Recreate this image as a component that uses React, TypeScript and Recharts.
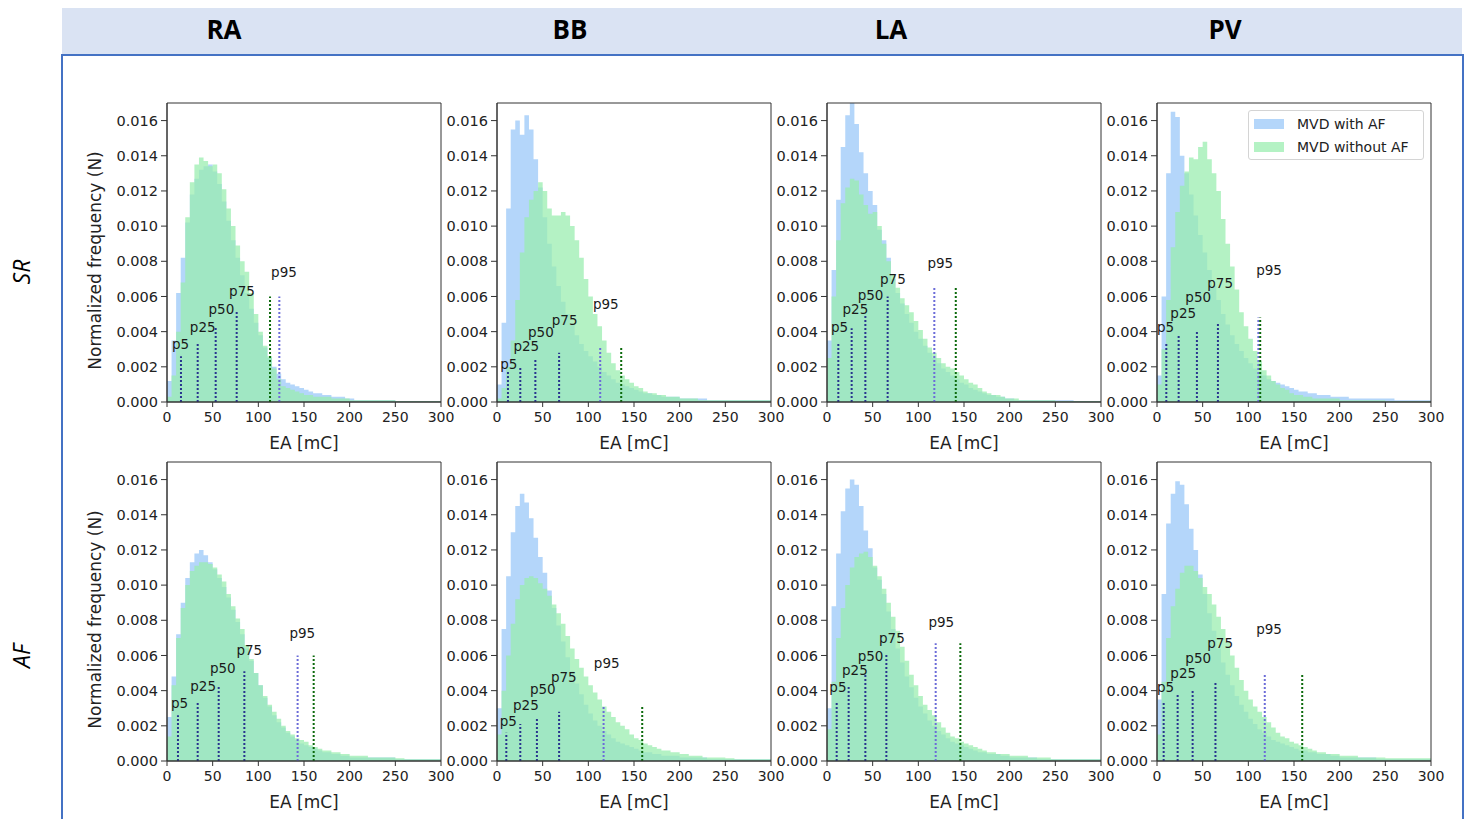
import React from 'react';
import {
  ComposedChart,
  Area,
  XAxis,
  YAxis,
  ReferenceLine,
  ReferenceArea,
  ReferenceDot,
} from 'recharts';

// bin starts [mC], 5 mC wide bins
const binStarts = [
  0, 5, 10, 15, 20, 25, 30, 35, 40, 45, 50, 55, 60, 65, 70, 75, 80, 85, 90, 95,
  100, 105, 110, 115, 120, 125, 130, 135, 140, 145, 150, 155, 160, 165, 170, 175, 180, 185, 190, 195,
  200, 205, 210, 215, 220, 225, 230, 235, 240, 245, 250, 255, 260, 265, 270, 275, 280, 285, 290, 295,
];

const xTicks = [0, 50, 100, 150, 200, 250, 300];
const yTicks = [0, 0.002, 0.004, 0.006, 0.008, 0.01, 0.012, 0.014, 0.016];
const columns = ['RA', 'BB', 'LA', 'PV'];
const rowNames = ['SR', 'AF'];
const pctNames = ['p5', 'p25', 'p50', 'p75', 'p95'];

// ---- SR row ----
const raSrWith = [
  0.0012, 0.0035, 0.0062, 0.0082, 0.0102, 0.0118, 0.0127, 0.0132, 0.0134, 0.0135,
  0.0131, 0.0124, 0.0114, 0.0103, 0.0092, 0.0082, 0.0072, 0.0062, 0.0053, 0.0045,
  0.0038, 0.0031, 0.0025, 0.002, 0.0016, 0.0013, 0.0011, 0.001, 0.0009, 0.0008,
  0.0007, 0.0006, 0.0005, 0.0005, 0.0004, 0.0004, 0.0003, 0.0003, 0.0003, 0.0002,
  0.0002, 0.0001, 0.0001, 0.0001, 0.0001, 0.0001, 0.0001, 0.0001, 0.0001, 0.0001,
  0.00005, 0.00005, 0.00005, 0.00005, 0.00005, 0.00005, 0.00005, 0.00005, 0.00005, 0.00005,
];
const raSrWithout = [
  0.0003, 0.0015, 0.004, 0.0068, 0.0105, 0.0125, 0.0135, 0.0139, 0.0137, 0.0134,
  0.0135, 0.013, 0.0121, 0.011, 0.01, 0.0089, 0.008, 0.0074, 0.0062, 0.005,
  0.004, 0.0032, 0.0026, 0.0019, 0.0013, 0.0009, 0.0008, 0.0007, 0.0006, 0.0005,
  0.0004, 0.0004, 0.0003, 0.0003, 0.0003, 0.0003, 0.0002, 0.0002, 0.0002, 0.0002,
  0.0001, 0.0001, 0.0001, 0.0001, 0.0001, 0.0001, 0.0001, 0.0001, 0.0001, 0.0001,
  0.00005, 0.00005, 0.00005, 0.00005, 0.00005, 0.00005, 0.00005, 0.00005, 0.00005, 0.00005,
];
const bbSrWith = [
  0.001, 0.0045, 0.011, 0.0155, 0.016, 0.0152, 0.0163, 0.0155, 0.0138, 0.0122,
  0.0105, 0.009, 0.0077, 0.0066, 0.0057, 0.005, 0.0044, 0.0038, 0.0033, 0.0029,
  0.0026, 0.0023, 0.002, 0.0017, 0.0015, 0.0013, 0.0011, 0.001, 0.0009, 0.0008,
  0.0007, 0.0006, 0.0005, 0.0005, 0.0004, 0.0004, 0.0003, 0.0003, 0.0003, 0.0003,
  0.0002, 0.0002, 0.0002, 0.0002, 0.0002, 0.0002, 0.0001, 0.0001, 0.0001, 0.0001,
  0.0001, 0.0001, 0.0001, 0.0001, 0.0001, 0.0001, 0.0001, 0.0001, 0.0001, 0.0001,
];
const bbSrWithout = [
  0.0002, 0.0008, 0.002, 0.0035, 0.0058, 0.0085, 0.0105, 0.0115, 0.012, 0.0125,
  0.012, 0.011, 0.0106, 0.0106, 0.0108, 0.0106, 0.01, 0.0092, 0.0082, 0.007,
  0.006, 0.005, 0.0043, 0.0035, 0.0028, 0.0022, 0.0018, 0.0015, 0.0013, 0.0011,
  0.0009, 0.0008, 0.0006, 0.0005, 0.0005, 0.0004, 0.0004, 0.0003, 0.0003, 0.0003,
  0.0002, 0.0002, 0.0002, 0.0002, 0.0001, 0.0001, 0.0001, 0.0001, 0.0001, 0.0001,
  0.0001, 0.0001, 0.0001, 0.0001, 0.0001, 0.0001, 0.0001, 0.0001, 0.0001, 0.0001,
];
const laSrWith = [
  0.0035, 0.0075, 0.0115, 0.0145, 0.0163, 0.017, 0.0158, 0.0142, 0.013, 0.012,
  0.0112, 0.0098, 0.0092, 0.0082, 0.007, 0.0062, 0.0056, 0.005, 0.0045, 0.004,
  0.0036, 0.0032, 0.0028, 0.0025, 0.0022, 0.0019, 0.0017, 0.0015, 0.0013, 0.0011,
  0.001, 0.0008, 0.0007, 0.0006, 0.0005, 0.0004, 0.0004, 0.0003, 0.0003, 0.0002,
  0.0002, 0.0001, 0.0001, 0.0001, 0.0001, 0.0001, 0.0001, 0.0001, 0.0001, 0.0001,
  0.0001, 0.0001, 0.0001, 0.0001, 0.00005, 0.00005, 0.00005, 0.00005, 0.00005, 0.00005,
];
const laSrWithout = [
  0.0025, 0.006, 0.0092, 0.0113, 0.0122, 0.0127, 0.0126, 0.0118, 0.0112, 0.0107,
  0.0108, 0.01, 0.009, 0.008, 0.0072, 0.0065, 0.0059, 0.0055, 0.0051, 0.0046,
  0.0041, 0.0036, 0.0031, 0.0028, 0.0025, 0.0022, 0.002, 0.0019, 0.0017, 0.0015,
  0.0013, 0.0011, 0.001, 0.0008, 0.0006, 0.0005, 0.0004, 0.0004, 0.0003, 0.0002,
  0.0002, 0.0002, 0.0001, 0.0001, 0.0001, 0.0001, 0.0001, 0.0001, 0.0001, 0.0001,
  0.00005, 0.00005, 0.00005, 0.00005, 0.00005, 0.00005, 0.00005, 0.00005, 0.00005, 0.00005,
];
const pvSrWith = [
  0.0015, 0.006, 0.013, 0.0165, 0.0162, 0.014, 0.013, 0.0118, 0.0106, 0.0095,
  0.0085, 0.0075, 0.0066, 0.0058, 0.005, 0.0044, 0.0038, 0.0033, 0.0029, 0.0025,
  0.0022, 0.0019, 0.0017, 0.0015, 0.0013, 0.0012, 0.0011, 0.001, 0.0009, 0.0008,
  0.0007, 0.0006, 0.0006, 0.0005, 0.0005, 0.0004, 0.0004, 0.0004, 0.0003, 0.0003,
  0.0003, 0.0003, 0.0002, 0.0002, 0.0002, 0.0002, 0.0002, 0.0002, 0.0002, 0.0002,
  0.0002, 0.0002, 0.0001, 0.0001, 0.0001, 0.0001, 0.0001, 0.0001, 0.0001, 0.0001,
];
const pvSrWithout = [
  0.001, 0.003, 0.0058, 0.0088, 0.0108, 0.0123, 0.0131, 0.0139, 0.0138, 0.0145,
  0.0148, 0.0138, 0.013, 0.012, 0.0104, 0.009, 0.0077, 0.0064, 0.0051, 0.0043,
  0.0036, 0.0029, 0.0023, 0.0018, 0.0015, 0.0012, 0.001, 0.0008, 0.0007, 0.0005,
  0.0004, 0.0004, 0.0003, 0.0003, 0.0002, 0.0002, 0.0002, 0.0002, 0.0002, 0.0002,
  0.0001, 0.0001, 0.0001, 0.0001, 0.0001, 0.0001, 0.0001, 0.0001, 0.0001, 0.0001,
  0.00005, 0.00005, 0.00005, 0.00005, 0.00005, 0.00005, 0.00005, 0.00005, 0.00005, 0.00005,
];

// ---- AF row ----
const raAfWith = [
  0.0025, 0.0048, 0.0072, 0.009, 0.0104, 0.0113, 0.0118, 0.012, 0.0117, 0.0113,
  0.0109, 0.0104, 0.0099, 0.0093, 0.0086, 0.0079, 0.0072, 0.0064, 0.0057, 0.005,
  0.0043, 0.0036, 0.0031, 0.0026, 0.0022, 0.0019, 0.0016, 0.0014, 0.0012, 0.001,
  0.0009, 0.0008, 0.0007, 0.0006, 0.0005, 0.0005, 0.0004, 0.0004, 0.0003, 0.0003,
  0.0002, 0.0002, 0.0002, 0.0002, 0.0002, 0.0002, 0.0002, 0.0002, 0.0002, 0.0002,
  0.0001, 0.0001, 0.0001, 0.0001, 0.0001, 0.0001, 0.0001, 0.0001, 0.0001, 0.0001,
];
const raAfWithout = [
  0.0014, 0.0043, 0.007, 0.0087, 0.01, 0.0108, 0.0111, 0.0113, 0.0113, 0.0112,
  0.011, 0.0106, 0.0102, 0.0095, 0.0088, 0.0081, 0.0075, 0.0066, 0.0058, 0.005,
  0.0043, 0.0037, 0.0032, 0.0028, 0.0024, 0.002, 0.0017, 0.0015, 0.0013, 0.0012,
  0.0011, 0.0009, 0.0008, 0.0007, 0.0006, 0.0006, 0.0005, 0.0005, 0.0004, 0.0004,
  0.0003, 0.0003, 0.0003, 0.0003, 0.0002, 0.0002, 0.0002, 0.0002, 0.0002, 0.0002,
  0.00015, 0.00015, 0.0001, 0.0001, 0.0001, 0.0001, 0.0001, 0.0001, 0.0001, 0.0001,
];
const bbAfWith = [
  0.003, 0.0075, 0.0105, 0.013, 0.0145, 0.0152, 0.0147, 0.0138, 0.0127, 0.0116,
  0.0107, 0.0097, 0.0087, 0.0077, 0.0068, 0.0059, 0.0051, 0.0044, 0.0038, 0.0032,
  0.0027, 0.0023, 0.002, 0.0017, 0.0015, 0.0013, 0.0011, 0.001, 0.0009, 0.0008,
  0.0007, 0.0006, 0.0005, 0.0005, 0.0004, 0.0004, 0.0003, 0.0003, 0.0003, 0.0003,
  0.0002, 0.0002, 0.0002, 0.0002, 0.0002, 0.0002, 0.0001, 0.0001, 0.0001, 0.0001,
  0.0001, 0.0001, 0.0001, 0.0001, 0.0001, 0.0001, 0.0001, 0.0001, 0.0001, 0.0001,
];
const bbAfWithout = [
  0.0015, 0.004, 0.006, 0.0078, 0.0092, 0.01, 0.0104, 0.0105, 0.0104, 0.0101,
  0.0098, 0.0094, 0.0089, 0.0084, 0.0078, 0.0071, 0.0064, 0.0058, 0.0053, 0.0048,
  0.0043, 0.0039, 0.0035, 0.0031, 0.0028, 0.0025, 0.0022, 0.002, 0.0018, 0.0015,
  0.0013, 0.0012, 0.001, 0.0009, 0.0008, 0.0007, 0.0006, 0.0006, 0.0005, 0.0005,
  0.0004, 0.0004, 0.0003, 0.0003, 0.0003, 0.0002, 0.0002, 0.0002, 0.0002, 0.0002,
  0.00015, 0.00015, 0.0001, 0.0001, 0.0001, 0.0001, 0.0001, 0.0001, 0.0001, 0.0001,
];
const laAfWith = [
  0.003, 0.0088, 0.0118, 0.0142, 0.0155, 0.016, 0.0157, 0.0145, 0.0131, 0.0121,
  0.011, 0.0103, 0.0095, 0.0085, 0.0075, 0.0064, 0.0056, 0.0048, 0.0042, 0.0036,
  0.0031, 0.0027, 0.0023, 0.002, 0.0017, 0.0015, 0.0013, 0.0011, 0.001, 0.0009,
  0.0008, 0.0007, 0.0006, 0.0005, 0.0005, 0.0004, 0.0004, 0.0004, 0.0003, 0.0003,
  0.0002, 0.0002, 0.0002, 0.0002, 0.0002, 0.0002, 0.0001, 0.0001, 0.0001, 0.0001,
  0.0001, 0.0001, 0.0001, 0.0001, 0.0001, 0.0001, 0.0001, 0.0001, 0.0001, 0.0001,
];
const laAfWithout = [
  0.0018, 0.0045, 0.007, 0.0087, 0.01, 0.011, 0.0116, 0.0118, 0.0119, 0.0116,
  0.0111, 0.0105, 0.0098, 0.009, 0.0082, 0.0074, 0.0065, 0.0057, 0.0049, 0.0043,
  0.0037, 0.0032, 0.0029, 0.0026, 0.0022, 0.0019, 0.0016, 0.0014, 0.0013, 0.0011,
  0.001, 0.0009, 0.0008, 0.0007, 0.0006, 0.0005, 0.0005, 0.0004, 0.0004, 0.0004,
  0.0003, 0.0003, 0.0003, 0.0003, 0.0002, 0.0002, 0.0002, 0.0002, 0.0002, 0.0001,
  0.0001, 0.0001, 0.0001, 0.0001, 0.0001, 0.0001, 0.0001, 0.0001, 0.0001, 0.0001,
];
const pvAfWith = [
  0.0035, 0.0095, 0.0135, 0.0152, 0.0159, 0.0157, 0.0146, 0.0132, 0.012, 0.0106,
  0.0095, 0.0084, 0.0074, 0.0064, 0.0056, 0.0049, 0.0043, 0.0037, 0.0032, 0.0028,
  0.0024, 0.0021, 0.0018, 0.0016, 0.0014, 0.0012, 0.0011, 0.001, 0.0009, 0.0008,
  0.0007, 0.0006, 0.0006, 0.0005, 0.0005, 0.0004, 0.0004, 0.0004, 0.0003, 0.0003,
  0.0002, 0.0002, 0.0002, 0.0002, 0.0002, 0.0002, 0.0002, 0.0002, 0.0001, 0.0001,
  0.0001, 0.0001, 0.0001, 0.0001, 0.0001, 0.0001, 0.0001, 0.0001, 0.0001, 0.0001,
];
const pvAfWithout = [
  0.0015, 0.0045, 0.007, 0.0088, 0.0098, 0.0107, 0.0111, 0.0111, 0.0108, 0.0104,
  0.0099, 0.0095, 0.0089, 0.0082, 0.0075, 0.0068, 0.006, 0.0053, 0.0046, 0.004,
  0.0035, 0.0031, 0.0028, 0.0025, 0.0022, 0.0019, 0.0016, 0.0014, 0.0013, 0.0011,
  0.001, 0.0009, 0.0008, 0.0007, 0.0006, 0.0005, 0.0005, 0.0004, 0.0004, 0.0004,
  0.0003, 0.0003, 0.0003, 0.0003, 0.0002, 0.0002, 0.0002, 0.0002, 0.0002, 0.0002,
  0.00015, 0.00015, 0.00015, 0.00015, 0.00015, 0.00015, 0.00015, 0.00015, 0.00015, 0.00015,
];

// percentiles of "with AF" (p5..p95), line heights, p95 of "without AF", label anchors
const raSrPct = [15.3, 33.6, 53.3, 76.3, 123];
const raSrPctTop = [0.0026, 0.0034, 0.0043, 0.0052, 0.006];
const raSrP95Without = 112.8;
const raSrLabelX = [5.5, 25, 45.5, 68, 114];
const raSrLabelY = [0.003, 0.004, 0.005, 0.006, 0.0071];

const bbSrPct = [12, 25.5, 42, 68, 113];
const bbSrPctTop = [0.0017, 0.002, 0.0024, 0.0028, 0.0031];
const bbSrP95Without = 136;
const bbSrLabelX = [3.6, 18, 34, 60, 105];
const bbSrLabelY = [0.0019, 0.0029, 0.0037, 0.0044, 0.0053];

const laSrPct = [12.4, 27, 42, 66.4, 117.5];
const laSrPctTop = [0.0034, 0.0042, 0.005, 0.006, 0.0066];
const laSrP95Without = 141;
const laSrLabelX = [4.4, 17, 33.6, 58, 110];
const laSrLabelY = [0.004, 0.005, 0.0058, 0.0067, 0.0076];

const pvSrPct = [10.2, 23.7, 43.7, 66.7, 111];
const pvSrPctTop = [0.0034, 0.0038, 0.0041, 0.0045, 0.0048];
const pvSrP95Without = 113;
const pvSrLabelX = [0, 14.6, 31, 55, 108.6];
const pvSrLabelY = [0.004, 0.0048, 0.0057, 0.0065, 0.0072];

const raAfPct = [12, 33.6, 56.6, 84.7, 143];
const raAfPctTop = [0.0026, 0.0034, 0.0043, 0.0051, 0.006];
const raAfP95Without = 160.6;
const raAfLabelX = [4.4, 25.5, 47, 76, 134];
const raAfLabelY = [0.003, 0.004, 0.005, 0.006, 0.007];

const bbAfPct = [10.2, 25.5, 43.7, 68, 116.7];
const bbAfPctTop = [0.0016, 0.0021, 0.0024, 0.0028, 0.0031];
const bbAfP95Without = 159;
const bbAfLabelX = [3, 17.5, 36, 59, 106];
const bbAfLabelY = [0.002, 0.0029, 0.0038, 0.0045, 0.0053];

const laAfPct = [10.6, 23.7, 42, 65, 119];
const laAfPctTop = [0.0034, 0.0043, 0.005, 0.0061, 0.0067];
const laAfP95Without = 146;
const laAfLabelX = [2.6, 16.4, 33.6, 57, 111];
const laAfLabelY = [0.0039, 0.0049, 0.0057, 0.0067, 0.0076];

const pvAfPct = [7.3, 22.6, 39, 64, 118];
const pvAfPctTop = [0.0034, 0.0038, 0.0041, 0.0045, 0.0049];
const pvAfP95Without = 159;
const pvAfLabelX = [0, 14.6, 31, 55, 108.6];
const pvAfLabelY = [0.0039, 0.0047, 0.0056, 0.0064, 0.0072];

const panels = [
  { row: 0, col: 0, withAF: raSrWith, withoutAF: raSrWithout, pct: raSrPct, top: raSrPctTop, p95: raSrP95Without, lx: raSrLabelX, ly: raSrLabelY },
  { row: 0, col: 1, withAF: bbSrWith, withoutAF: bbSrWithout, pct: bbSrPct, top: bbSrPctTop, p95: bbSrP95Without, lx: bbSrLabelX, ly: bbSrLabelY },
  { row: 0, col: 2, withAF: laSrWith, withoutAF: laSrWithout, pct: laSrPct, top: laSrPctTop, p95: laSrP95Without, lx: laSrLabelX, ly: laSrLabelY },
  { row: 0, col: 3, withAF: pvSrWith, withoutAF: pvSrWithout, pct: pvSrPct, top: pvSrPctTop, p95: pvSrP95Without, lx: pvSrLabelX, ly: pvSrLabelY },
  { row: 1, col: 0, withAF: raAfWith, withoutAF: raAfWithout, pct: raAfPct, top: raAfPctTop, p95: raAfP95Without, lx: raAfLabelX, ly: raAfLabelY },
  { row: 1, col: 1, withAF: bbAfWith, withoutAF: bbAfWithout, pct: bbAfPct, top: bbAfPctTop, p95: bbAfP95Without, lx: bbAfLabelX, ly: bbAfLabelY },
  { row: 1, col: 2, withAF: laAfWith, withoutAF: laAfWithout, pct: laAfPct, top: laAfPctTop, p95: laAfP95Without, lx: laAfLabelX, ly: laAfLabelY },
  { row: 1, col: 3, withAF: pvAfWith, withoutAF: pvAfWithout, pct: pvAfPct, top: pvAfPctTop, p95: pvAfP95Without, lx: pvAfLabelX, ly: pvAfLabelY },
];

const BLUE = '#b4d6fa';
const GREEN = '#98edae';
const PLOT_LEFT = [167, 497, 827, 1157];
const PLOT_TOP = [103, 462];
const PLOT_W = 274;
const PLOT_H = 299;
const Y_W = 62;
const M_TOP = 8;
const M_RIGHT = 18;
const X_H = 50;
const FONT = '"DejaVu Sans", sans-serif';
const TXT = '#222';

const Panel = ({ p }: { p: (typeof panels)[number] }) => {
  const rows = binStarts.map((x, i) => ({ x, withAF: p.withAF[i], withoutAF: p.withoutAF[i] }));
  rows.push({ x: 300, withAF: p.withAF[59], withoutAF: p.withoutAF[59] });

  return (
    <div style={{ position: 'absolute', left: PLOT_LEFT[p.col] - Y_W, top: PLOT_TOP[p.row] - M_TOP }}>
      <ComposedChart
        width={Y_W + PLOT_W + M_RIGHT}
        height={M_TOP + PLOT_H + X_H}
        data={rows}
        margin={{ top: M_TOP, right: M_RIGHT, bottom: 0, left: 0 }}
        style={{ fontFamily: FONT }}
      >
        <XAxis
          dataKey="x"
          type="number"
          domain={[0, 300]}
          ticks={xTicks}
          allowDataOverflow
          height={X_H}
          stroke="#333"
          tickSize={5}
          tickMargin={5}
          tick={{ fontSize: 14, fill: TXT }}
          label={{ value: 'EA [mC]', position: 'insideBottom', offset: 3, fontSize: 17, fill: TXT }}
        />
        <YAxis
          type="number"
          domain={[0, 0.017]}
          ticks={yTicks}
          allowDataOverflow
          width={Y_W}
          stroke="#333"
          tickSize={6}
          tickMargin={3}
          tick={{ fontSize: 14.5, fill: TXT }}
          tickFormatter={(v: number) => v.toFixed(3)}
        />
        <Area type="stepAfter" dataKey="withAF" fill={BLUE} fillOpacity={1} stroke="none" isAnimationActive={false} />
        <Area type="stepAfter" dataKey="withoutAF" fill={GREEN} fillOpacity={0.73} stroke="none" isAnimationActive={false} />
        <ReferenceArea x1={0} x2={300} y1={0} y2={0.017} fill="none" fillOpacity={0} stroke="#333" strokeWidth={1} />
        {p.pct.map((v, i) => (
          <ReferenceLine
            key={'b' + i}
            segment={[{ x: v, y: 0 }, { x: v, y: p.top[i] }]}
            stroke={i === 4 ? '#6c6cd8' : '#28348e'}
            strokeWidth={2}
            strokeDasharray="2 2"
          />
        ))}
        <ReferenceLine
          segment={[{ x: p.p95, y: 0 }, { x: p.p95, y: p.top[4] }]}
          stroke="#0c6a0c"
          strokeWidth={2}
          strokeDasharray="2 2"
        />
        {pctNames.map((name, i) => (
          <ReferenceDot
            key={name}
            x={p.lx[i]}
            y={p.ly[i]}
            r={1}
            shape={(s: any) => (
              <text x={s.cx} y={s.cy} fontSize={13.5} fill="#1a1a1a" fontFamily={FONT}>
                {name}
              </text>
            )}
          />
        ))}
      </ComposedChart>
    </div>
  );
};

export default function App() {
  return (
    <div style={{ position: 'absolute', left: 0, top: 0, width: 1468, height: 819, overflow: 'hidden', background: '#fff' }}>
      {/* header band */}
      <div style={{ position: 'absolute', left: 62, top: 8, width: 1400, height: 46, background: '#dae3f3' }} />
      {columns.map((c, i) => (
        <div
          key={c}
          style={{
            position: 'absolute',
            left: [224, 570, 891, 1225][i] - 50,
            top: 11,
            width: 100,
            textAlign: 'center',
            fontFamily: '"Open Sans", sans-serif',
            fontWeight: 700,
            fontSize: 26,
            lineHeight: '36px',
            color: '#000',
          }}
        >
          {c}
        </div>
      ))}
      {/* blue frame */}
      <div
        style={{
          position: 'absolute',
          left: 61,
          top: 54,
          width: 1399,
          height: 800,
          borderTop: '2px solid #4472c4',
          borderLeft: '2px solid #4472c4',
          borderRight: '2px solid #4472c4',
        }}
      />
      <svg width={1468} height={819} style={{ position: 'absolute', left: 0, top: 0 }}>
        {rowNames.map((r, i) => (
          <text
            key={r}
            transform={`translate(30, ${[272, 656][i]}) rotate(-90)`}
            textAnchor="middle"
            fontFamily='"Open Sans", sans-serif'
            fontStyle="italic"
            fontSize={23}
            fill="#000"
          >
            {r}
          </text>
        ))}
        {PLOT_TOP.map((t, i) => (
          <text
            key={i}
            transform={`translate(101, ${t + PLOT_H / 2 + 8}) rotate(-90)`}
            textAnchor="middle"
            fontFamily={FONT}
            fontSize={17}
            fill={TXT}
          >
            Normalized frequency (N)
          </text>
        ))}
      </svg>
      {panels.map((p) => (
        <Panel key={p.row + '-' + p.col} p={p} />
      ))}
      {/* legend */}
      <div
        style={{
          position: 'absolute',
          left: 1248,
          top: 110,
          width: 174,
          height: 48,
          border: '1px solid #d4d4d4',
          borderRadius: 3,
          background: 'rgba(255,255,255,0.85)',
          fontFamily: FONT,
          fontSize: 14,
          color: TXT,
        }}
      >
        {[
          { name: 'MVD with AF', color: BLUE },
          { name: 'MVD without AF', color: '#b4f2c4' },
        ].map((e, i) => (
          <div key={e.name} style={{ position: 'absolute', left: 5, top: 4 + i * 23, height: 18, display: 'flex', alignItems: 'center' }}>
            <span style={{ display: 'inline-block', width: 30, height: 10, background: e.color, marginRight: 13 }} />
            <span>{e.name}</span>
          </div>
        ))}
      </div>
    </div>
  );
}
